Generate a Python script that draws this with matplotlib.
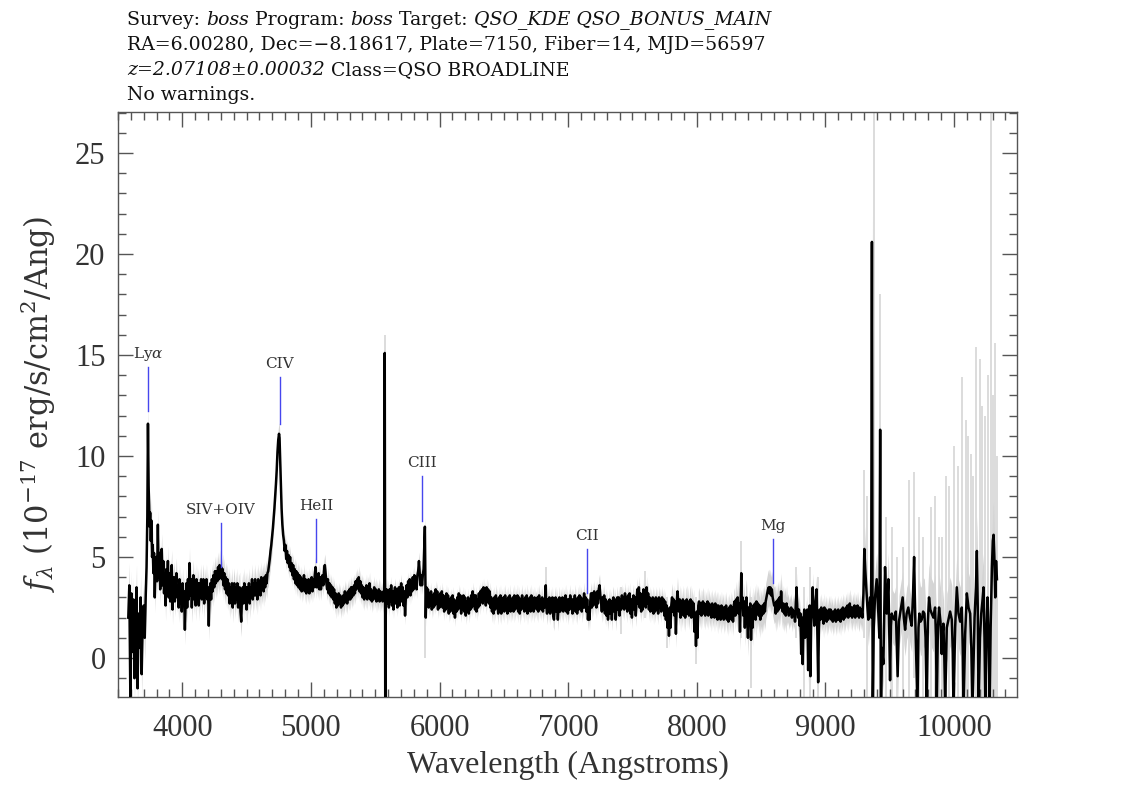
import numpy as np
import matplotlib
matplotlib.use("Agg")
import matplotlib.pyplot as plt
from matplotlib.ticker import MultipleLocator

plt.rcParams["mathtext.fontset"] = "custom"
plt.rcParams["mathtext.rm"] = "DejaVu Serif"
plt.rcParams["mathtext.it"] = "DejaVu Serif:italic"
plt.rcParams["mathtext.cal"] = "DejaVu Serif:italic"

# smoothed flux (black), 1e-17 erg/s/cm2/A
wave = [
    3580, 3588, 3596, 3604, 3612, 3620, 3628, 3636, 3644, 3652, 3660, 3668, 3676, 3684, 3692, 3700,
    3708, 3716, 3722, 3728, 3733, 3738,
    3742, 3746, 3750, 3755, 3760, 3765, 3770, 3775, 3780, 3786, 3792, 3798, 3804, 3810, 3816, 3822,
    3828, 3834, 3840, 3846, 3852, 3858, 3864, 3870, 3876, 3882, 3888, 3894, 3900, 3906, 3912, 3918,
    3924, 3930, 3936, 3942, 3948, 3954, 3960,
    3966, 3972, 3978, 3984, 3990, 3996, 4002, 4008, 4014, 4020, 4026, 4032, 4038, 4044, 4050, 4056,
    4062, 4068, 4074, 4080, 4086, 4092, 4098, 4104, 4110, 4116, 4122, 4128, 4134, 4140, 4146, 4152,
    4158, 4164, 4170, 4176, 4182, 4188, 4194, 4200, 4206, 4212, 4218, 4224, 4230, 4236, 4242, 4248,
    4254, 4260, 4266, 4272, 4278, 4284, 4290, 4296, 4302, 4308, 4314, 4320, 4326, 4332, 4338, 4344,
    4350, 4356, 4362, 4368, 4374, 4380, 4386, 4392, 4398, 4404, 4410, 4416, 4422, 4428, 4434, 4440,
    4446, 4452, 4458, 4464,
    4470, 4476, 4482, 4488, 4494, 4500, 4506, 4512, 4518, 4524, 4530, 4536, 4542, 4548, 4554, 4560,
    4566, 4572, 4578, 4584, 4590, 4596, 4602, 4608, 4614, 4620, 4626, 4632, 4638, 4644, 4650, 4656,
    4662, 4668, 4674, 4680, 4686, 4692, 4698, 4704, 4710, 4716, 4722, 4728, 4734, 4740, 4746, 4752,
    4756, 4760, 4766, 4772, 4778, 4784, 4790, 4796, 4802, 4808, 4814, 4820, 4826, 4832, 4838, 4844,
    4850, 4856, 4862, 4868, 4874, 4880, 4886, 4892, 4898, 4904, 4910, 4916, 4922, 4928, 4934, 4940,
    4946, 4952, 4958, 4964, 4970, 4976,
    4982, 4988, 4994, 5000, 5006, 5012, 5018, 5024, 5030, 5036, 5042, 5048, 5054, 5060, 5066, 5072,
    5078, 5084, 5090, 5096, 5102, 5108, 5114, 5120, 5126, 5132, 5138, 5144, 5150, 5156, 5162, 5168,
    5174, 5180, 5186, 5192, 5198, 5204, 5210, 5216, 5222, 5228, 5234, 5240, 5246, 5252, 5258, 5264,
    5270, 5276, 5282, 5288, 5294, 5300, 5306, 5312, 5318, 5324, 5330, 5336, 5342, 5348, 5354, 5360,
    5366, 5372, 5378, 5384, 5390, 5396, 5402, 5408, 5414, 5420, 5426, 5432, 5438, 5444, 5450, 5456,
    5462, 5468, 5474, 5480, 5486, 5492, 5498, 5504, 5510, 5516, 5522, 5528, 5534, 5540, 5546, 5552,
    5558, 5564, 5570, 5574, 5578, 5582,
    5588, 5594, 5600, 5606, 5612, 5618, 5624, 5630, 5636, 5642, 5648, 5654, 5660, 5666, 5672, 5678,
    5684, 5690, 5696, 5702, 5708, 5714, 5720, 5726, 5732, 5738, 5744, 5750, 5756, 5762, 5768, 5774,
    5780, 5786, 5792, 5798, 5804, 5810, 5816, 5822, 5828, 5834, 5840, 5846, 5852, 5858, 5864, 5870,
    5876, 5882, 5886, 5890, 5893, 5898, 5904, 5910, 5916, 5922, 5928, 5934, 5940, 5946, 5952, 5958,
    5964, 5970, 5976, 5982, 5988, 5994, 6000, 6006, 6012, 6018, 6024, 6030, 6036, 6042, 6048, 6054,
    6060, 6066, 6072, 6078, 6084, 6090, 6096, 6102, 6108, 6114, 6120, 6126, 6132, 6138, 6144, 6150,
    6156, 6162, 6168, 6174, 6180, 6186, 6192, 6198, 6204, 6210, 6216, 6222, 6228, 6234, 6240, 6246,
    6252, 6258, 6264, 6270,
    6276, 6282, 6288, 6294, 6300, 6306, 6312, 6318, 6324, 6330, 6336, 6342, 6348, 6354, 6360, 6366,
    6372, 6378, 6384, 6390, 6396, 6402, 6408, 6414, 6420, 6426, 6432, 6438, 6444, 6450, 6456, 6462,
    6468, 6474, 6480, 6486, 6492, 6498, 6504, 6510, 6516, 6522, 6528, 6534, 6540, 6546, 6552, 6558,
    6564, 6570, 6576, 6582, 6588, 6594, 6600, 6606, 6612, 6618, 6624, 6630, 6636, 6642, 6648, 6654,
    6660, 6666, 6672, 6678, 6684, 6690, 6696, 6702, 6708, 6714, 6720, 6726, 6732, 6738, 6744, 6750,
    6756, 6762, 6768, 6774, 6780, 6786, 6792, 6798, 6804, 6810, 6816, 6822, 6826, 6830, 6836, 6842,
    6848, 6854, 6860, 6866, 6872, 6878, 6884, 6890, 6896, 6902, 6908, 6914, 6920, 6926, 6932, 6938,
    6944, 6950, 6956, 6962, 6968, 6974, 6980, 6986, 6992, 6998, 7004, 7010, 7016, 7022, 7028, 7034,
    7040, 7046, 7052, 7058, 7064, 7070, 7076, 7082, 7088, 7094, 7100, 7106, 7112, 7118, 7124, 7130,
    7136, 7142, 7148, 7154, 7160, 7166, 7172, 7178, 7184, 7190, 7196, 7202, 7208, 7214, 7220, 7226,
    7232, 7238, 7244, 7250, 7256, 7262, 7268, 7274, 7280, 7286, 7292, 7298, 7304, 7310, 7316, 7322,
    7328, 7334, 7340, 7346, 7352, 7358, 7364, 7370, 7376, 7382, 7388, 7394, 7400, 7406, 7412, 7418,
    7424, 7430, 7436, 7442, 7448, 7454, 7460, 7466, 7472, 7478, 7484, 7490, 7496, 7502, 7508, 7514,
    7520, 7526, 7532, 7538, 7544, 7550, 7556, 7562, 7568, 7574, 7580, 7586, 7592, 7598, 7604, 7610,
    7616, 7622, 7628, 7634, 7640, 7646, 7652, 7658, 7664, 7670, 7676, 7682, 7688, 7694, 7700, 7706,
    7712, 7718, 7724, 7730, 7736, 7742, 7748, 7754, 7760, 7766, 7772, 7778, 7784, 7790, 7796, 7802,
    7808, 7814, 7820, 7826, 7832, 7838, 7844, 7850, 7856, 7862, 7868, 7874, 7880, 7886, 7892, 7898,
    7904, 7910, 7916, 7922, 7928, 7934, 7940, 7946, 7952, 7958, 7964, 7970, 7976, 7982, 7988, 7994,
    8000, 8006, 8012, 8018, 8024, 8030, 8036, 8042, 8048, 8054, 8060, 8066, 8072, 8078, 8084, 8090,
    8096, 8102, 8108, 8114, 8120, 8126, 8132, 8138, 8144, 8150, 8156, 8162, 8168, 8174, 8180, 8186,
    8192, 8198, 8204, 8210, 8216, 8222, 8228, 8234, 8240, 8246, 8252, 8258, 8264, 8270, 8276, 8282,
    8288, 8294, 8300, 8306, 8312, 8318, 8324, 8330, 8336, 8342, 8346, 8350, 8356, 8362, 8368, 8374,
    8380, 8386, 8392, 8398, 8404, 8410, 8416, 8422, 8428, 8434, 8440, 8446, 8452, 8458, 8464, 8470,
    8476, 8482, 8488, 8494, 8500, 8506, 8512, 8518, 8524, 8530, 8536, 8542, 8548, 8554, 8560, 8566,
    8572, 8578, 8584, 8590, 8596, 8602,
    8608, 8614, 8620, 8626, 8632, 8638, 8644, 8650, 8656, 8662, 8668, 8674, 8680, 8686, 8692, 8698,
    8704, 8710, 8716, 8722, 8728, 8734, 8740, 8746, 8752, 8758, 8764, 8770, 8776, 8782, 8788, 8794,
    8800, 8806, 8812, 8818, 8824, 8830, 8836, 8842, 8848, 8854, 8860, 8866, 8872, 8878, 8884, 8890,
    8896, 8902, 8908, 8914, 8920, 8926, 8932, 8938, 8944, 8950, 8956, 8962, 8968, 8974, 8980, 8986,
    8992, 8998, 9004, 9010, 9016, 9022, 9028, 9034, 9040, 9046, 9052, 9058, 9064, 9070, 9076, 9082,
    9088, 9094, 9100, 9106, 9112, 9118, 9124,
    9130, 9136, 9142, 9148, 9154, 9160, 9166, 9172, 9178, 9184, 9190, 9196, 9202, 9208, 9214, 9220,
    9226, 9232, 9238, 9244, 9250, 9256, 9262, 9268, 9274, 9280, 9288, 9296, 9303, 9310, 9318, 9326,
    9334, 9342, 9348, 9356, 9362, 9368, 9376, 9386, 9399, 9412, 9420, 9426, 9432, 9440, 9451, 9464,
    9477, 9490, 9503, 9510, 9516, 9526, 9536, 9548, 9562, 9572, 9581, 9591, 9601, 9610, 9620, 9632,
    9645, 9658, 9671, 9681, 9690, 9697, 9703, 9716, 9724, 9731, 9740, 9749, 9760, 9770, 9779, 9788,
    9797, 9806, 9816, 9827, 9840, 9853, 9860, 9866, 9875, 9884, 9895, 9905, 9911, 9918, 9925, 9931,
    9944, 9957, 9970, 9983, 9990, 9996, 10009, 10022, 10035, 10048, 10061, 10068, 10074, 10087, 10100, 10113,
    10126, 10135, 10144, 10160, 10171, 10178, 10185, 10191, 10202, 10212, 10221, 10230, 10237, 10243, 10252, 10261,
    10270, 10277, 10285, 10295, 10302, 10308, 10314, 10321, 10327, 10334,
]
flux = [
    2.0, 3.6, -1.9, 3.2, 0.3, 2.9, -1.0, 1.5, 3.5, -1.5, 2.2, 0.5, 3.0, -0.8, 1.8, 2.6,
    1.0, 3.2, 4.5, 7.0, 11.6, 8.5,
    7.5, 6.5, 7.2, 5.8, 6.8, 5.0, 5.6, 4.2, 5.2, 3.0, 4.6, 5.0, 3.8, 6.6, 4.0, 5.2,
    3.4, 4.4, 5.4, 3.6, 4.8, 3.2, 4.2, 2.6, 4.4, 3.4, 4.8, 3.0, 4.2, 2.8, 3.8, 4.6,
    2.4, 3.6, 4.0, 2.8, 3.6, 4.2, 3.0,
    3.5, 2.5, 3.9, 2.7, 3.5, 2.3, 3.7, 2.7, 3.3, 1.4, 2.8, 3.7, 2.5, 3.9, 2.9, 4.7,
    3.1, 3.9, 2.5, 3.5, 4.1, 2.9, 3.7, 2.6, 3.9, 3.1, 3.7, 2.6, 3.7, 3.0, 3.9, 2.9,
    3.5, 3.9, 2.7, 3.7, 3.0, 3.9, 2.9, 3.5, 1.6, 3.2, 3.7, 2.9, 3.9, 3.3, 4.1, 3.5,
    4.3, 3.7, 4.3, 3.8, 4.5, 3.9, 4.6, 4.0, 4.5, 3.9, 4.4, 3.6, 4.2, 3.4, 4.0, 3.2,
    3.9, 3.1, 3.7, 2.7, 3.5, 2.9, 3.7, 2.5, 3.3, 3.7, 2.7, 3.5, 2.9, 3.7, 2.5, 3.3,
    3.5, 2.3, 1.8, 3.0,
    3.5, 2.7, 3.7, 2.9, 3.5, 2.4, 3.5, 2.9, 3.7, 2.7, 3.5, 3.1, 3.9, 2.9, 3.7, 3.1,
    3.9, 3.1, 3.7, 2.9, 3.9, 3.3, 3.8, 3.1, 4.0, 3.4, 3.9, 3.3, 4.0, 3.5, 4.1, 3.7,
    4.2, 4.3, 4.6, 4.9, 5.3, 5.6, 6.0, 6.4, 6.9, 7.4, 8.0, 8.6, 9.3, 10.2, 10.8, 11.1,
    10.9, 10.0, 8.6, 7.4, 6.6, 6.1, 5.8, 5.3, 5.6, 4.9, 5.3, 4.7, 5.1, 4.5, 5.0, 4.3,
    4.7, 4.1, 4.6, 3.9, 4.4, 3.7, 4.3, 3.6, 4.2, 3.5, 4.1, 3.4, 4.0, 3.3, 3.9, 3.4,
    4.1, 3.3, 3.9, 3.2, 3.8, 3.3,
    3.9, 3.2, 3.8, 3.4, 4.0, 3.3, 3.9, 3.5, 4.1, 4.5, 3.5, 4.0, 3.5, 4.2, 3.4, 4.0,
    3.4, 3.9, 4.1, 3.6, 4.3, 4.6, 4.2, 3.7, 3.4, 3.9, 3.2, 3.7, 3.1, 3.6, 3.0, 3.5,
    2.9, 3.4, 2.7, 3.2, 2.5, 3.1, 2.6, 3.2, 2.7, 3.1, 2.5, 3.0, 2.6, 3.1, 2.7, 3.3,
    2.8, 3.2, 2.7, 3.3, 2.9, 3.4, 2.9, 3.5, 3.0, 3.5, 3.1, 3.6, 3.2, 3.8, 3.4, 3.9,
    3.5, 4.0, 3.3, 3.8, 3.2, 3.6, 3.0, 3.5, 2.9, 3.4, 3.0, 3.6, 2.9, 3.5, 3.1, 3.7,
    2.9, 3.4, 2.8, 3.3, 2.9, 3.5, 3.0, 3.4, 2.8, 3.3, 2.9, 3.4, 2.8, 3.3, 2.9, 3.2,
    2.8, 3.3, 2.9, 15.1, -3.0, 3.0,
    3.4, 2.7, 3.3, 2.5, 3.4, 2.8, 3.6, 2.6, 3.3, 2.4, 3.2, 3.5, 2.7, 3.4, 2.5, 3.2,
    3.5, 2.6, 3.3, 3.7, 2.8, 3.5, 2.6, 3.3, 2.1, 3.0, 3.6, 3.0, 3.8, 3.2, 3.9, 3.1,
    3.8, 3.3, 4.0, 3.4, 4.1, 3.5, 4.0, 3.4, 4.1, 4.3, 4.8, 4.2, 3.6, 4.1, 3.6, 4.1,
    4.4, 5.6, 6.5, 4.0, 2.0, 3.5, 2.8, 3.4, 2.5, 3.2, 2.6, 3.3, 2.4, 3.1, 2.5, 3.2,
    2.6, 3.4, 2.7, 3.3, 2.4, 3.1, 2.5, 3.2, 2.6, 3.3, 2.5, 3.1, 2.3, 3.0, 2.4, 3.2,
    2.5, 3.1, 2.2, 2.9, 2.3, 3.0, 2.4, 3.1, 2.2, 2.9, 2.0, 2.8, 2.3, 3.0, 2.4, 3.2,
    2.5, 3.1, 2.2, 2.9, 2.4, 3.1, 2.3, 3.0, 2.1, 2.8, 2.3, 3.0, 2.2, 2.9, 2.4, 3.1,
    2.5, 3.3, 2.6, 3.1,
    2.4, 3.1, 2.3, 2.9, 2.5, 3.2, 2.6, 3.3, 2.8, 3.4, 2.7, 3.5, 2.9, 3.3, 2.6, 3.5,
    2.8, 3.4, 2.7, 3.3, 2.5, 3.0, 2.3, 2.9, 2.2, 3.0, 2.4, 3.1, 2.5, 2.9, 2.2, 3.0,
    2.3, 3.1, 2.2, 2.9, 2.4, 3.0, 2.3, 3.1, 2.5, 2.9, 2.2, 3.0, 2.4, 3.1, 2.3, 2.8,
    2.4, 3.0, 2.3, 3.1, 2.4, 2.9, 2.5, 3.1, 2.3, 3.0, 2.2, 2.9, 2.4, 3.1, 2.5, 2.9,
    2.3, 3.0, 2.4, 3.1, 2.2, 2.9, 2.5, 3.0, 2.3, 3.1, 2.4, 2.9, 2.3, 3.0, 2.5, 2.8,
    2.4, 3.0, 2.3, 3.1, 2.5, 2.9, 2.4, 3.0, 2.3, 2.9, 2.5, 3.0, 3.6, 2.6, 2.2, 2.9,
    2.3, 3.0, 2.2, 2.9, 2.4, 3.0, 2.1, 1.9, 2.7, 3.0, 2.3, 2.9, 1.9, 2.6, 3.0, 2.3,
    2.9, 2.4, 3.0, 2.3, 2.9, 2.5, 3.1, 2.3, 2.9, 2.2, 2.9, 2.4, 3.1, 2.5, 2.9, 2.2,
    2.9, 2.4, 3.1, 2.3, 2.9, 2.2, 3.0, 2.4, 3.1, 2.5, 3.0, 2.3, 2.9, 2.5, 3.2, 2.5,
    3.0, 2.3, 2.9, 1.9, 2.5, 1.9, 2.8, 3.2, 2.5, 3.2, 2.6, 3.3, 2.7, 3.2, 2.5, 3.3,
    2.7, 3.4, 3.6, 3.1, 2.8, 2.3, 3.0, 2.4, 3.1, 2.2, 2.9, 2.1, 2.8, 1.9, 2.5, 2.9,
    2.2, 2.8, 1.9, 2.8, 3.0, 2.3, 2.9, 1.9, 2.5, 3.0, 2.4, 3.0, 2.1, 2.9, 2.4, 3.1,
    2.5, 3.0, 2.4, 3.2, 2.5, 3.0, 2.3, 3.1, 2.4, 3.2, 2.2, 2.9, 2.0, 2.8, 3.1, 2.4,
    3.0, 2.1, 2.8, 3.4, 2.7, 3.5, 2.5, 3.2, 2.3, 3.1, 2.4, 3.4, 2.6, 3.3, 2.5, 3.5,
    2.7, 3.2, 2.4, 3.0, 2.3, 2.9, 2.4, 3.0, 2.2, 2.9, 2.3, 3.0, 2.4, 2.9, 2.2, 3.0,
    2.5, 2.9, 2.3, 3.0, 2.4, 2.9, 2.1, 2.8, 1.9, 2.6, 1.5, 2.4, 1.1, 2.5, 1.5, 2.6,
    3.0, 2.3, 2.9, 2.1, 2.8, 1.2, 2.6, 3.3, 2.7, 2.3, 2.9, 2.0, 2.8, 2.2, 2.9, 2.1,
    2.8, 2.0, 2.7, 2.9, 2.2, 2.8, 2.1, 2.7, 2.9, 2.0, 2.8, 2.2, 2.7, 1.3, 2.1, 0.6,
    2.3, 1.0, 2.6, 2.8, 2.2, 2.7, 2.1, 2.6, 2.8, 2.2, 2.7, 2.1, 2.6, 2.2, 2.8, 2.1,
    2.7, 2.2, 2.6, 2.0, 2.7, 2.2, 2.6, 2.0, 2.7, 2.2, 2.6, 1.9, 2.6, 2.1, 2.5, 1.9,
    2.6, 2.1, 2.5, 1.9, 2.5, 2.0, 2.6, 1.9, 2.4, 1.8, 2.5, 2.0, 2.6, 1.9, 2.5, 1.8,
    2.6, 2.8, 2.1, 2.9, 2.3, 3.0, 2.2, 2.7, 1.3, 2.9, 4.2, 2.5, 3.0, 2.1, 2.8, 1.5,
    2.6, 3.0, 2.1, 1.0, 2.5, 1.9, 2.7, 0.9, 2.4, 1.5, 2.6, 2.1, 2.7, 1.9, 2.8, 2.3,
    2.7, 2.1, 2.6, 1.9, 2.5, 2.1, 2.6, 2.2, 2.7, 2.3, 2.8, 3.0, 3.2, 3.4, 3.5, 3.2,
    3.5, 3.1, 3.4, 3.0, 2.8, 2.6,
    2.7, 2.2, 2.8, 2.3, 2.9, 2.4, 3.0, 2.5, 3.3, 2.6, 2.3, 2.7, 2.2, 2.6, 2.1, 2.7,
    2.3, 2.5, 2.1, 2.4, 2.2, 2.5, 2.0, 2.4, 2.1, 2.3, 1.8, 2.6, 3.5, 2.4, 2.0, 2.4,
    1.6, 2.2, 0.2, 2.0, -0.3, 1.8, 2.4, 1.0, 2.2, 1.4, 2.4, -0.6, 1.8, 2.6, -0.9, 1.9,
    2.4, 3.5, 2.3, 1.6, 2.5, 2.9, 3.4, 1.0, -1.2, 1.5, 2.4, 1.9, 2.5, 2.0, 2.3, 1.7,
    2.5, 1.9, 2.4, 1.8, 2.3, 1.9, 2.4, 2.0, 2.4, 1.9, 2.3, 1.8, 2.3, 1.9, 2.4, 1.8,
    2.3, 1.9, 2.4, 1.9, 2.3, 1.8, 2.4,
    2.0, 2.5, 1.9, 2.4, 2.0, 2.5, 2.1, 2.6, 2.0, 2.4, 2.7, 2.1, 2.5, 2.0, 2.5, 2.1,
    2.6, 2.0, 2.5, 2.1, 2.6, 2.2, 2.0, 2.5, 2.1, 2.4, 2.0, 3.2, 5.4, 4.4, 3.5, 2.6,
    1.9, 2.6, 3.0, 2.0, 20.6, -3.0, 1.5, 3.0, 3.9, 2.2, 1.0, 11.3, -3.0, 0.5, -0.3, 4.5,
    2.2, 3.9, -1.1, 1.6, 2.2, 2.0, 1.9, 2.3, -0.9, 1.8, 2.2, 2.6, 3.0, 2.0, 1.4, 2.2,
    2.5, 2.0, 1.6, 3.0, 5.0, 2.5, 0.9, -2.5, 1.5, 2.2, 1.8, 1.9, 2.3, 2.2, 1.0, -2.5,
    1.8, 3.0, 2.4, 2.2, 2.0, 2.5, 1.0, -2.5, 1.5, 2.5, 1.8, 0.2, 1.2, 1.7, 0.0, -2.5,
    1.5, 1.9, 2.3, 1.9, 0.5, -2.5, 1.5, 3.5, 2.2, 1.8, 2.5, 0.5, -2.5, 1.2, 3.2, 2.5,
    2.2, 0.5, -2.5, 2.0, 3.5, 5.3, 2.5, -2.5, 1.0, 2.2, 2.8, 3.5, 1.0, -2.5, 1.2, 3.0,
    0.5, -2.5, 1.5, 4.5, 5.8, 6.1, 5.0, 3.0, 4.8, 3.9,
]

# noise half-width of the grey raw-flux band, per wavelength range
err_edges = [3500, 3760, 4700, 5600, 6400, 7800, 8300, 8700, 9300, 9700, 10500]
err_half = [1.1, 0.75, 0.55, 0.45, 0.55, 0.7, 0.9, 0.7, 1.3, 1.7]

# isolated grey spikes (sky residuals): wavelength, low, high
spike_wave = [5577, 5890, 6826, 7410, 7600, 7770, 7995, 8346, 8424, 8770, 8830, 8880, 8940,
              9303, 9320, 9378, 9428, 9470, 9520, 9560, 9600, 9650, 9690, 9730, 9760,
              9820, 9850, 9880, 9905, 9940, 9960, 10000, 10030, 10062, 10090, 10110,
              10130, 10150, 10175, 10200, 10220, 10245, 10265, 10285, 10300, 10320, 10332]
spike_lo = [-2.0, 0.0, 2.4, 1.2, 2.0, 0.5, -0.3, 1.0, -1.5, 1.0, -2.0, -2.0, -2.0,
            1.0, -2.0, -2.0, -2.0, -2.0, -2.0, -2.0, -2.0, -2.0, -1.0, -2.0, -2.0,
            -2.0, -2.0, -2.0, -2.0, -2.0, -2.0, -2.0, -2.0, -2.0, -2.0, -2.0,
            -2.0, -2.0, -2.0, -2.0, -2.0, -2.0, -2.0, -2.0, -2.0, -2.0, -2.0]
spike_hi = [16.0, 4.5, 4.5, 3.5, 4.3, 3.0, 3.0, 5.8, 3.0, 4.5, 3.5, 4.5, 4.0,
            9.3, 8.0, 27.0, 18.0, 7.0, 6.5, 5.0, 5.5, 8.8, 9.2, 7.0, 6.0,
            7.5, 8.0, 6.0, 6.0, 9.0, 8.5, 10.5, 9.5, 13.9, 11.8, 11.0,
            10.1, 9.0, 15.4, 14.8, 12.5, 12.0, 14.0, 27.0, 13.0, 15.6, 10.0]

# emission line marks
z = 2.07108
line_names = [r"Ly$\alpha$", "SIV+OIV", "CIV", "HeII", "CIII", "CII", "Mg"]
line_rest = [1215.67, 1400.0, 1549.06, 1640.42, 1908.73, 2326.0, 2798.75]
mark_lo = [12.25, 4.5, 11.6, 4.75, 6.8, 3.2, 3.7]
mark_hi = [14.4, 6.7, 13.9, 6.9, 9.0, 5.4, 5.9]

# header lines as (text, italic?) pieces
header = [
    [("Survey: ", False), ("boss", True), (" Program: ", False), ("boss", True),
     (" Target: ", False), ("QSO_KDE QSO_BONUS_MAIN", True)],
    [("RA=6.00280, Dec=\u22128.18617, Plate=7150, Fiber=14, MJD=56597", False)],
    [("z=2.07108\u00b10.00032", True), (" Class=QSO BROADLINE", False)],
    [("No warnings.", False)],
]

wave = np.array(wave, dtype=float)
flux = np.array(flux, dtype=float)
err = np.array(err_half)[np.clip(np.searchsorted(err_edges, wave) - 1, 0, len(err_half) - 1)]

fig = plt.figure(figsize=(11.34, 8.1), dpi=100)
ax = fig.add_axes([118 / 1134, 1 - 697 / 810, 899 / 1134, 585 / 810])

ax.fill_between(wave, flux - err, flux + err, color="#d4d4d4", lw=0, zorder=1)
ax.vlines(spike_wave, spike_lo, spike_hi, color="#d6d6d6", lw=1.2, zorder=1)
ax.plot(wave, flux, color="black", lw=1.8, zorder=3)

for name, rest, lo, hi in zip(line_names, line_rest, mark_lo, mark_hi):
    wl = rest * (1 + z)
    ax.plot([wl, wl], [lo, hi], color="#4646ee", lw=1, zorder=4)
    ax.text(wl, hi + 0.65, name, ha="center", va="center", fontsize=11,
            family="DejaVu Serif", color="#333333", zorder=5)

ax.set_xlim(3500, 10490)
ax.set_ylim(-1.93, 27.03)
ax.xaxis.set_major_locator(MultipleLocator(1000))
ax.xaxis.set_minor_locator(MultipleLocator(100))
ax.yaxis.set_major_locator(MultipleLocator(5))
ax.yaxis.set_minor_locator(MultipleLocator(1))
ax.tick_params(which="both", direction="in", top=True, right=True, color="#555555", width=1)
ax.tick_params(which="major", length=11, pad=12, labelsize=22)
ax.tick_params(which="minor", length=5.5)
ax.tick_params(axis="y", which="major", pad=9)
for lab in ax.get_xticklabels() + ax.get_yticklabels():
    lab.set_family("Liberation Serif")
    lab.set_color("#333333")
for sp in ax.spines.values():
    sp.set_color("#555555")
    sp.set_linewidth(1)

ax.set_xlabel("Wavelength (Angstroms)", fontsize=23, family="Liberation Serif",
              color="#333333", labelpad=6)
ax.set_ylabel(r"$f_\lambda$ (10$^{-17}$ erg/s/cm$^2$/Ang)", fontsize=22,
              family="DejaVu Serif", color="#333333", labelpad=12)

renderer = fig.canvas.get_renderer()
inv = fig.transFigure.inverted()
for i, pieces in enumerate(header):
    x = 127 / 1134
    y = 1 - (20 + 25 * i) / 810
    for text, italic in pieces:
        t = fig.text(x, y, text, ha="left", va="center", fontsize=13.6,
                     family="DejaVu Serif", style="italic" if italic else "normal",
                     color="#111111")
        bb = t.get_window_extent(renderer)
        x = inv.transform((bb.x1, 0))[0]

fig.savefig("out.png", dpi=100)
